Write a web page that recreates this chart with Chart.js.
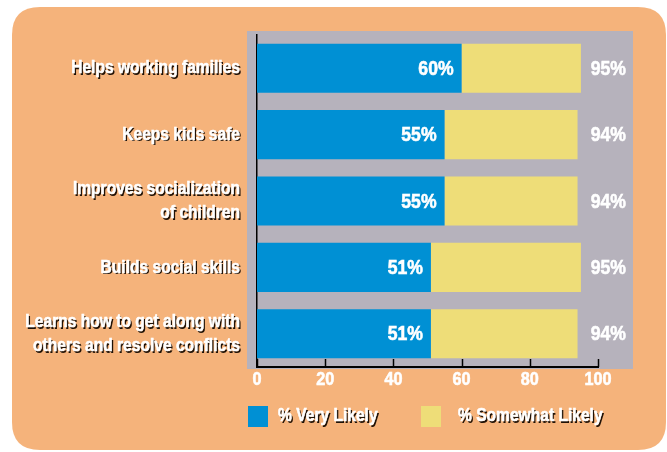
<!DOCTYPE html>
<html>
<head>
<meta charset="utf-8">
<script src="https://cdn.jsdelivr.net/npm/chart.js@4.4.1/dist/chart.umd.min.js"></script>
<style>
  html, body { margin: 0; padding: 0; background: #fff; }
</style>
</head>
<body>
<canvas id="grafico" width="667" height="452"></canvas>
<script>
// Motivos para apoiar o programa (% de respondentes)
const categorias = [
    ['Helps working families'],
    ['Keeps kids safe'],
    ['Improves socialization', 'of children'],
    ['Builds social skills'],
    ['Learns how to get along with', 'others and resolve conflicts']
];
const muitoProvavel = [60, 55, 55, 51, 51];
const algoProvavel = [35, 39, 39, 44, 43];
const totalProvavel = [95, 94, 94, 95, 94];
const ticksX = [0, 20, 40, 60, 80, 100];

const FONTE = '"Liberation Sans", Arial, sans-serif';
const LARANJA = '#f5b37b';
const CINZA = '#b6b2bc';
const AZUL = '#0090d4';
const AMARELO = '#eedd78';

// texto condensado (escala horizontal), com ou sem sombra
function texto(ctx, txt, x, y, opc) {
    ctx.save();
    ctx.font = 'bold ' + opc.tam + 'px ' + FONTE;
    ctx.textAlign = opc.alinha || 'left';
    ctx.textBaseline = 'middle';
    ctx.translate(x, y);
    ctx.scale(opc.sx || 0.82, 1);
    if (opc.sombra) {
        ctx.shadowColor = 'rgba(20, 10, 0, 0.95)';
        ctx.shadowOffsetX = 1.5;
        ctx.shadowOffsetY = 1.5;
        ctx.shadowBlur = 0;
    }
    ctx.fillStyle = '#fff';
    ctx.fillText(txt, 0, 0);
    // traco fino para engrossar a letra
    ctx.shadowColor = 'transparent';
    ctx.strokeStyle = '#fff';
    ctx.lineWidth = 0.6;
    ctx.strokeText(txt, 0, 0);
    ctx.restore();
}

function retanguloArredondado(ctx, x, y, w, h, r) {
    ctx.beginPath();
    ctx.moveTo(x + r, y);
    ctx.lineTo(x + w - r, y);
    ctx.quadraticCurveTo(x + w, y, x + w, y + r);
    ctx.lineTo(x + w, y + h - r);
    ctx.quadraticCurveTo(x + w, y + h, x + w - r, y + h);
    ctx.lineTo(x + r, y + h);
    ctx.quadraticCurveTo(x, y + h, x, y + h - r);
    ctx.lineTo(x, y + r);
    ctx.quadraticCurveTo(x, y, x + r, y);
    ctx.closePath();
}

// fundo laranja arredondado e area cinza atras das barras
const fundo = {
    id: 'fundo',
    beforeDraw(chart) {
        const ctx = chart.ctx;
        const a = chart.chartArea;
        ctx.save();
        ctx.fillStyle = '#fff';
        ctx.fillRect(0, 0, chart.width, chart.height);
        ctx.fillStyle = LARANJA;
        retanguloArredondado(ctx, 12, 7, 654, 443, 28);
        ctx.fill();
        ctx.fillStyle = CINZA;
        ctx.fillRect(a.left - 10, a.top - 4, a.right - a.left + 45, a.bottom - a.top + 6);
        ctx.restore();
    }
};

// rotulos das categorias, valores, eixo x e legenda
const rotulos = {
    id: 'rotulos',
    afterDatasetsDraw(chart) {
        const ctx = chart.ctx;
        const a = chart.chartArea;
        const x = chart.scales.x;
        const y = chart.scales.y;
        ctx.save();

        // marcas do eixo x voltadas para dentro e seus numeros
        ctx.strokeStyle = '#000';
        ctx.lineWidth = 1.5;
        ticksX.forEach(v => {
            const px = Math.round(x.getPixelForValue(v)) + 0.5;
            ctx.beginPath();
            ctx.moveTo(px, a.bottom - 8);
            ctx.lineTo(px, a.bottom);
            ctx.stroke();
            texto(ctx, String(v), x.getPixelForValue(v), a.bottom + 13, { tam: 18, sx: 0.9, alinha: 'center' });
        });

        // nomes das categorias
        categorias.forEach((linhas, i) => {
            const cy = y.getPixelForValue(i);
            linhas.forEach((l, j) => {
                const ly = cy + (j - (linhas.length - 1) / 2) * 24;
                texto(ctx, l, a.left - 17, ly, { tam: 19, alinha: 'right', sombra: true });
            });
        });

        // valores dentro das barras azuis e totais a direita
        const barras = chart.getDatasetMeta(0).data;
        muitoProvavel.forEach((v, i) => {
            texto(ctx, v + '%', barras[i].x - 8, barras[i].y + 1, { tam: 20, sx: 0.88, alinha: 'right' });
        });
        totalProvavel.forEach((v, i) => {
            texto(ctx, v + '%', a.right + 28, y.getPixelForValue(i) + 1, { tam: 20, sx: 0.88, alinha: 'right' });
        });

        // legenda
        const itens = [
            { caixa: a.left - 9, texto: a.left + 21 },
            { caixa: a.left + 164, texto: a.left + 201 }
        ];
        chart.data.datasets.forEach((ds, i) => {
            ctx.fillStyle = ds.backgroundColor;
            ctx.fillRect(itens[i].caixa, 406, 20, 21);
            texto(ctx, ds.label, itens[i].texto, 416, { tam: 19, sombra: true });
        });
        ctx.restore();
    }
};

new Chart(document.getElementById('grafico').getContext('2d'), {
    type: 'bar',
    data: {
        labels: categorias,
        datasets: [{
            label: '% Very Likely',
            data: muitoProvavel,
            backgroundColor: AZUL,
            borderWidth: 0
        }, {
            label: '% Somewhat Likely',
            data: algoProvavel,
            backgroundColor: AMARELO,
            borderWidth: 0
        }]
    },
    options: {
        indexAxis: 'y',
        responsive: false,
        animation: false,
        devicePixelRatio: 1,
        layout: { padding: { top: 35, right: 69, left: 0, bottom: 0 } },
        datasets: { bar: { barPercentage: 0.74, categoryPercentage: 1 } },
        plugins: { legend: { display: false }, tooltip: { enabled: false } },
        scales: {
            x: {
                stacked: true,
                min: 0,
                max: 100,
                afterBuildTicks(s) { s.ticks = ticksX.map(v => ({ value: v })); },
                afterFit(s) { s.height = 85; },
                grid: { display: false, drawTicks: false },
                border: { color: '#000', width: 2 },
                ticks: { display: false }
            },
            y: {
                stacked: true,
                afterFit(s) { s.width = 257; },
                grid: { display: false, drawTicks: false },
                border: { color: '#000', width: 1.5 },
                ticks: { display: false }
            }
        }
    },
    plugins: [fundo, rotulos]
});
</script>
</body>
</html>
